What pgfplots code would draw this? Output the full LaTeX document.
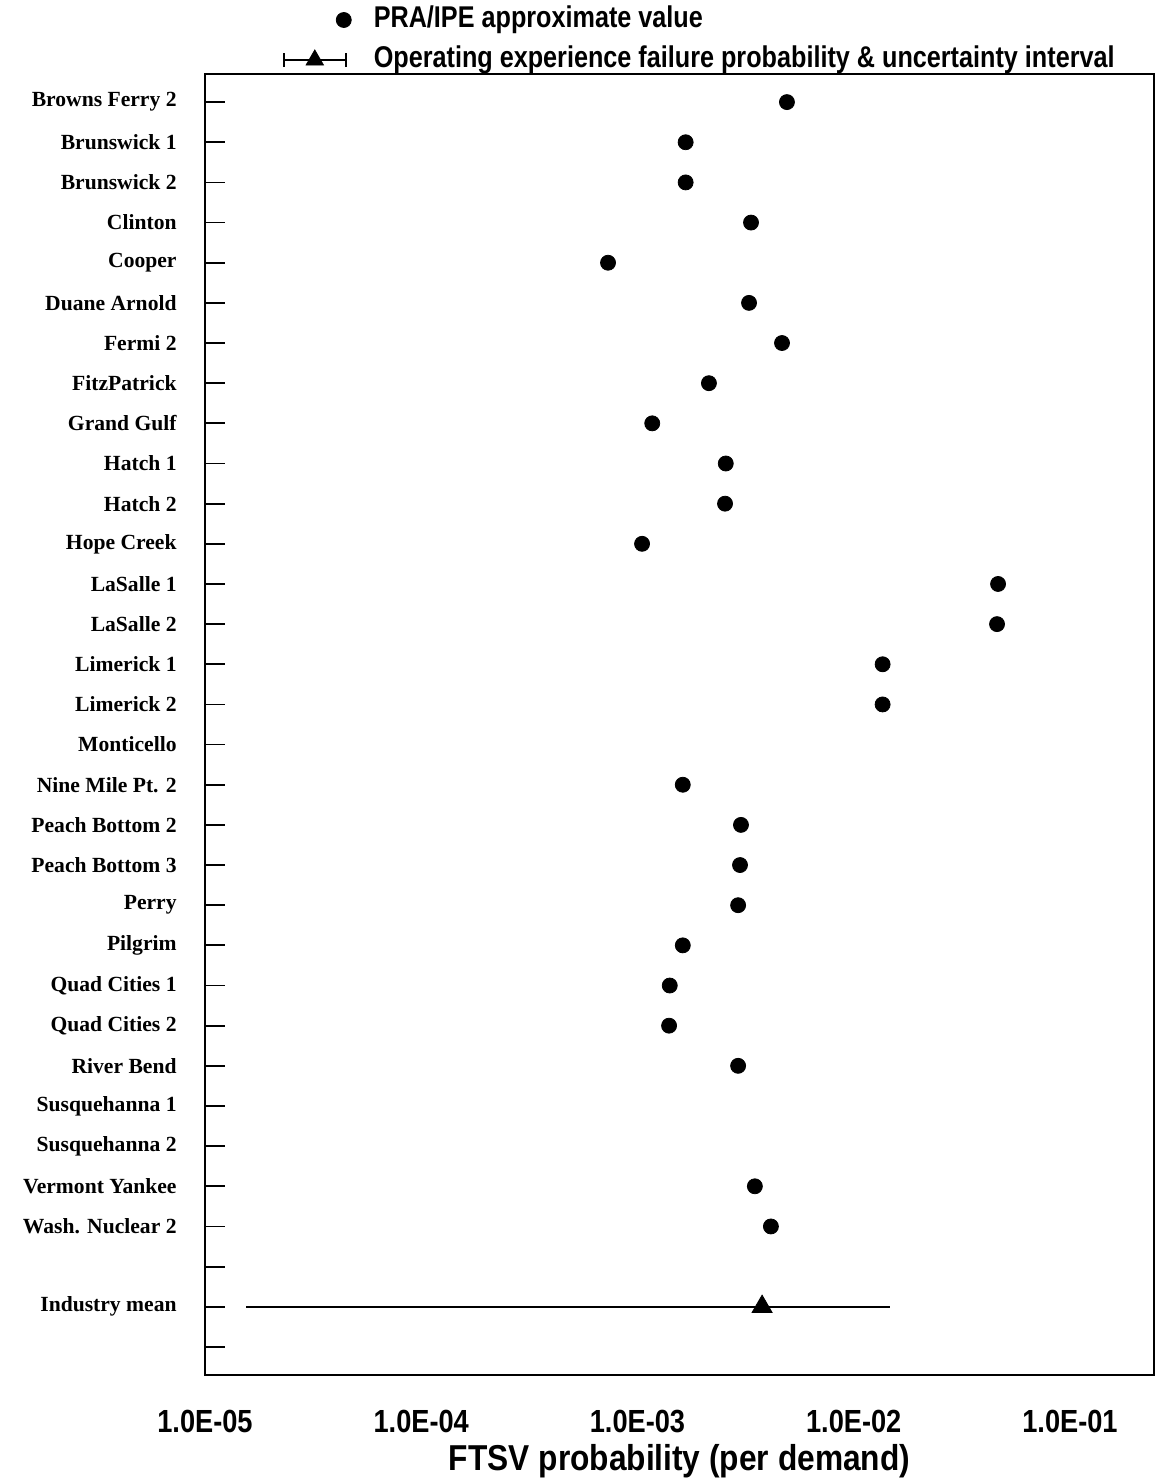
\documentclass[border=0pt]{standalone}
\usepackage{fontspec}
\setmainfont{Liberation Serif}
\newfontfamily\arialf{Liberation Sans}
\usepackage{graphicx}
\usepackage{pgfplots}
\pgfplotsset{compat=1.18}
\begin{document}
\begin{tikzpicture}
\begin{axis}[
  scale only axis, width=474.5pt, height=650.5pt,
  xmode=log, xmin=1e-5, xmax=0.2446,
  ymin=-0.7, ymax=31.7, y dir=reverse,
  axis line style={line width=1.4pt},
  xtick={1e-5,1e-4,1e-3,1e-2,1e-1},
  xticklabels={\scalebox{0.85}[1]{1.0E-05},\scalebox{0.85}[1]{1.0E-04},\scalebox{0.85}[1]{1.0E-03},\scalebox{0.85}[1]{1.0E-02},\scalebox{0.85}[1]{1.0E-01}},
  xtick style={draw=none}, xminorticks=false,
  xticklabel style={font=\arialf\bfseries\fontsize{16}{18}\selectfont, yshift=-14pt},
  ytick={0,...,31},
  yticklabels={Browns Ferry 2, Brunswick 1, Brunswick 2, Clinton, Cooper, Duane Arnold, Fermi 2, FitzPatrick, Grand Gulf, Hatch 1, Hatch 2, Hope Creek, LaSalle 1, LaSalle 2, Limerick 1, Limerick 2, Monticello, Nine Mile Pt. 2, Peach Bottom 2, Peach Bottom 3, Perry, Pilgrim, Quad Cities 1, Quad Cities 2, River Bend, Susquehanna 1, Susquehanna 2, Vermont Yankee, Wash. Nuclear 2, {}, Industry mean, {}},
  ytick pos=left, tick align=inside, major tick length=10pt,
  ytick style={line width=0.9pt, black},
  yticklabel style={font=\bfseries\fontsize{10.8}{12}\selectfont, anchor=east, inner sep=0pt, xshift=-14pt},
  xlabel={\scalebox{0.88}[1]{FTSV probability (per demand)}},
  xlabel style={font=\arialf\bfseries\fontsize{18}{20}\selectfont, at={(axis description cs:0.5,0)}, anchor=center, yshift=-43pt},
  legend cell align=left,
  legend style={draw=none, fill=none, at={(axis description cs:0.0822,1)}, anchor=south west,
    inner sep=0pt, outer sep=0pt, row sep=6pt,
    nodes={inner sep=0pt, text height=11pt, text depth=3pt, font=\arialf\bfseries\fontsize{15}{17}\selectfont}},
]
\addplot[only marks, mark=*, mark size=3.75pt, black,
  legend image code/.code={\path[draw=none] (0pt,0pt) -- (45pt,0pt); \fill[black] (30pt,0pt) circle (3.75pt);}]
  table[row sep=\\] {
  x y \\
  4.91e-3 0 \\
  1.67e-3 1 \\
  1.67e-3 2 \\
  3.35e-3 3 \\
  7.31e-4 4 \\
  3.28e-3 5 \\
  4.66e-3 6 \\
  2.14e-3 7 \\
  1.17e-3 8 \\
  2.56e-3 9 \\
  2.54e-3 10 \\
  1.05e-3 11 \\
  4.65e-2 12 \\
  4.60e-2 13 \\
  1.36e-2 14 \\
  1.36e-2 15 \\
  1.62e-3 17 \\
  3.01e-3 18 \\
  2.98e-3 19 \\
  2.92e-3 20 \\
  1.62e-3 21 \\
  1.41e-3 22 \\
  1.40e-3 23 \\
  2.92e-3 24 \\
  3.49e-3 27 \\
  4.14e-3 28 \\
};
\addlegendentry{\scalebox{0.84}[1]{PRA/IPE approximate value}}
\addplot[black, line width=0.8pt, forget plot] coordinates {(1.55e-5,30) (1.47e-2,30)};
\addplot[only marks, mark=triangle*, mark size=5.8pt, black,
  legend image code/.code={
    \path[draw=none] (0pt,0pt) -- (45pt,0pt);
    \draw[black, line width=0.8pt] (0pt,0pt) -- (31pt,0pt);
    \draw[black, line width=0.8pt] (0pt,-3.5pt) -- (0pt,3.5pt);
    \draw[black, line width=0.8pt] (31pt,-3.5pt) -- (31pt,3.5pt);
    \draw[black] plot[mark=triangle*, mark size=5pt] coordinates {(15.5pt,0pt)};}]
  coordinates {(3.77e-3,30)};
\addlegendentry{\scalebox{0.84}[1]{Operating experience failure probability \& uncertainty interval}}
\end{axis}
\pgfresetboundingbox
\path[use as bounding box] (-102.5pt,-51.5pt) rectangle (475.5pt,687.5pt);
\end{tikzpicture}
\end{document}
